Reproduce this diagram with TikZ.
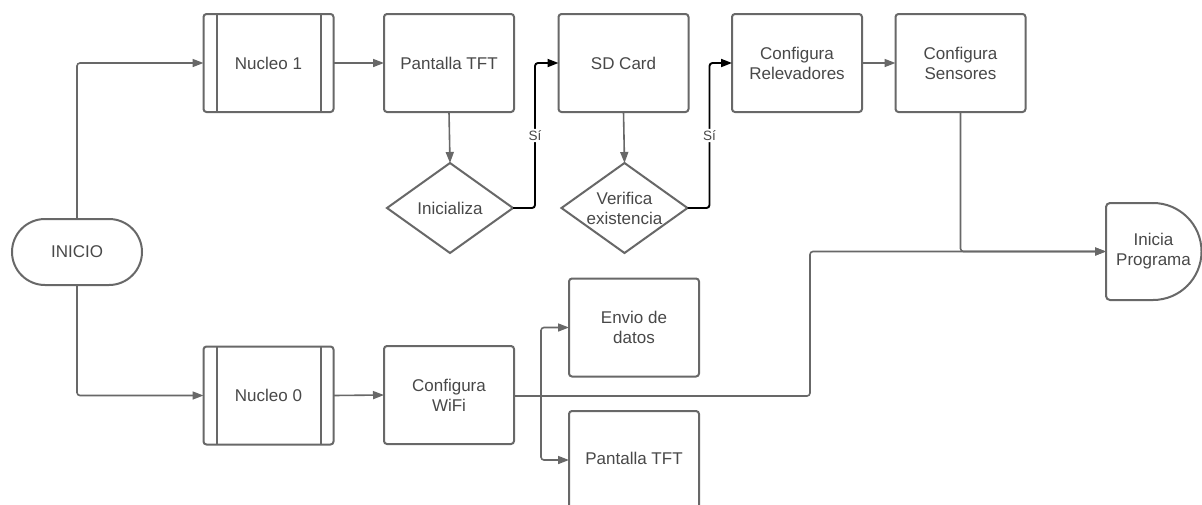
\documentclass[tikz,border=0pt]{standalone}
\usepackage{fontspec}
\setmainfont{Liberation Sans}
\usetikzlibrary{arrows.meta,shapes.geometric}
\definecolor{linegray}{RGB}{104,104,104}
\definecolor{textgray}{RGB}{72,72,72}
\tikzset{
  every node/.style={text=textgray, font=\fontsize{17}{20}\selectfont, outer sep=0pt},
  procbox/.style={draw=linegray, line width=2pt, rounded corners=3pt, fill=white,
    minimum width=130pt, minimum height=98pt, align=center, inner sep=2pt},
  startbox/.style={draw=linegray, line width=2pt, rounded corners=33pt, fill=white,
    minimum width=130pt, minimum height=66pt, align=center},
  decision/.style={draw=linegray, line width=2pt, diamond, fill=white,
    minimum width=126pt, minimum height=90pt, inner sep=0pt},
  conn/.style={draw=linegray, line width=1.6pt, rounded corners=3pt,
    -{Triangle[length=11pt,width=8pt]}},
  plainconn/.style={draw=linegray, line width=1.6pt, rounded corners=3pt},
  yesconn/.style={draw=black, line width=1.9pt, rounded corners=3pt,
    -{Triangle[length=11pt,width=8pt]}},
  yeslabel/.style={fill=white, inner sep=1.5pt, font=\fontsize{13.5}{15}\selectfont}
}
\begin{document}
\begin{tikzpicture}[x=1pt,y=-1pt]
\useasboundingbox[fill=white] (0,0) rectangle (1202,504);

% start terminal
\node[startbox] (inicio) at (77,252) {INICIO};

% the two core tasks (predefined process boxes)
\node[procbox] (n1) at (268.5,63) {Nucleo 1};
\node[procbox] (n0) at (268.5,395.5) {Nucleo 0};
\foreach \b in {n1,n0}{
  \draw[linegray, line width=2pt] ([xshift=13pt]\b.north west) -- ([xshift=13pt]\b.south west);
  \draw[linegray, line width=2pt] ([xshift=-13pt]\b.north east) -- ([xshift=-13pt]\b.south east);
}

% core 1 chain
\node[procbox] (tft1) at (449,63) {Pantalla TFT};
\node[procbox] (sd) at (623.5,63) {SD Card};
\node[procbox] (rel) at (797,63) {Configura\\Relevadores};
\node[procbox] (sen) at (960.5,63) {Configura\\Sensores};
\node[decision, label={[align=center]center:Inicializa}] (ini) at (450,208) {};
\node[decision, label={[align=center]center:Verifica\\existencia}] (ver) at (624.5,208) {};

% core 0 chain
\node[procbox] (wifi) at (449,395) {Configura\\WiFi};
\node[procbox] (envio) at (634,327.5) {Envio de\\datos};
\node[procbox] (tft2) at (634,460) {};
\node at (634,458) {Pantalla TFT};

% end terminal (delay shape)
\draw[linegray, line width=2pt, rounded corners=4pt, fill=white]
  (1153,300) -- (1106,300) -- (1106,203) -- (1153,203);
\draw[linegray, line width=2pt]
  (1153,300) arc[start angle=-90, end angle=90, radius=48.5pt];
\node[align=center, minimum width=95pt, minimum height=97pt] (ip) at (1153.5,251.5) {Inicia\\Programa};

% connectors
\draw[conn] (inicio.north) |- (n1.west);
\draw[conn] (inicio.south) |- (n0.west);
\draw[conn] (n1.east) -- (tft1.west);
\draw[conn] (tft1.south) -- (ini.north);
\draw[yesconn] (ini.east) -- ++(22,0) |- node[yeslabel, pos=0.25] {Sí} (sd.west);
\draw[conn] (sd.south) -- (ver.north);
\draw[yesconn] (ver.east) -- ++(22,0) |- node[yeslabel, pos=0.25] {Sí} (rel.west);
\draw[conn] (rel.east) -- (sen.west);
\draw[conn] (sen.south) |- (ip.west);
\draw[conn] (n0.east) -- (wifi.west);
\coordinate (split) at (541,396);
\coordinate (bend) at (810,396);
\draw[plainconn] (wifi.east |- split) -- (split);
\draw[conn] (split) |- (envio.west);
\draw[conn] (split) |- (tft2.west);
\draw[conn] (split) -- (bend) |- (ip.west);
\end{tikzpicture}
\end{document}
